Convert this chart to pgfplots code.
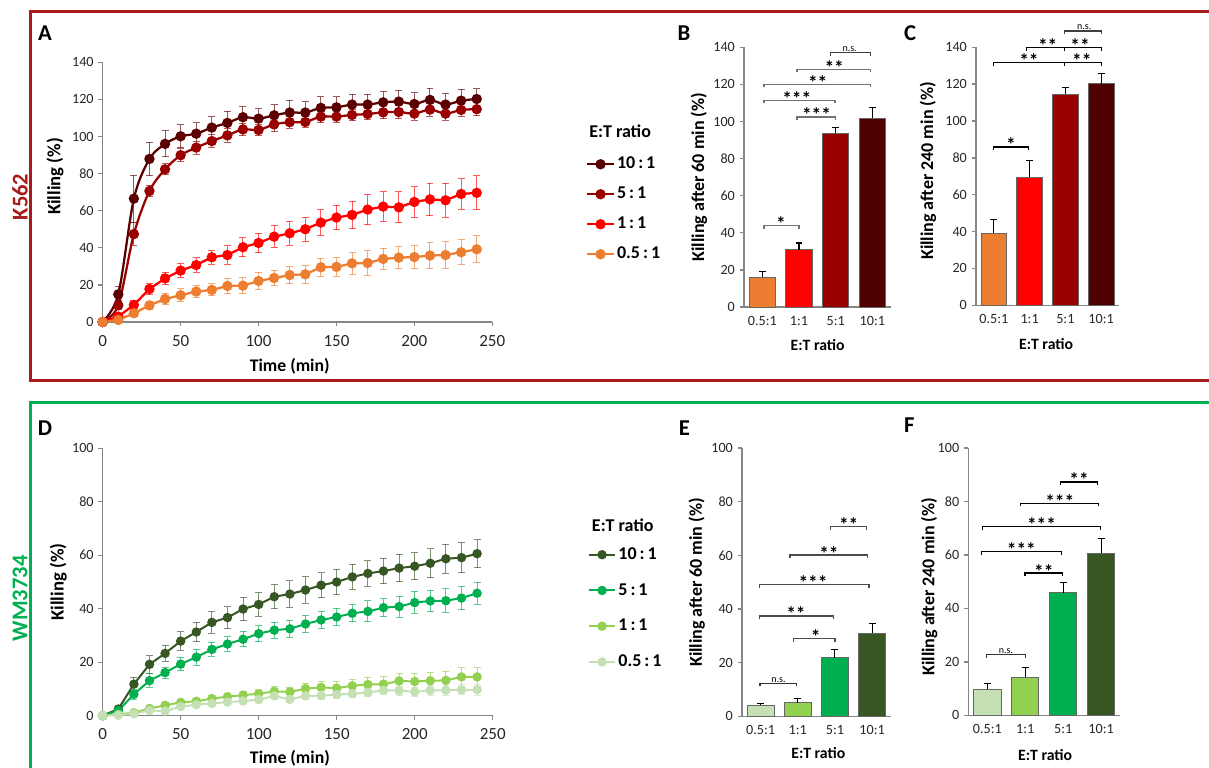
\documentclass[border=0pt]{standalone}
\usepackage{fontspec}
\setmainfont{Carlito}
\usepackage{pgfplots}
\pgfplotsset{compat=1.18}
\usepackage{pgfplotstable}

\definecolor{kdark}{HTML}{5A0000}
\definecolor{kbar10}{HTML}{4F0000}
\definecolor{kred5}{HTML}{990000}
\definecolor{kred1}{HTML}{FF0000}
\definecolor{korange}{HTML}{ED7D31}
\definecolor{g10}{HTML}{375623}
\definecolor{g5}{HTML}{00B050}
\definecolor{g1}{HTML}{92D050}
\definecolor{g05}{HTML}{C5E0B4}
\definecolor{frameRed}{HTML}{A81B1B}
\definecolor{axgrey}{HTML}{868686}

% ---------- Panel A data ----------
\pgfplotstableread{
t y e
0 0 0
10 14.9 4
20 66.5 12.7
30 87.9 9
40 96.0 7
50 100.1 6.3
60 101.5 5.8
70 104.8 5.9
80 107.3 6.3
90 110.4 5.5
100 109.6 5.4
110 111.4 5.8
120 112.9 6.6
130 112.9 5.9
140 115.4 6.1
150 115.7 5.8
160 117.2 5.5
170 117.2 5.5
180 118.4 5.8
190 118.8 6.1
200 117.5 6.1
210 119.7 6.3
220 117.2 5.9
230 119.3 6.1
240 120.2 5.6
}\Aten
\pgfplotstableread{
t y e
0 0 0
10 9.0 2.5
20 47.4 6
30 70.6 3
40 82.3 3
50 89.9 3.4
60 94.0 3.5
70 97.5 3.3
80 100.6 3.8
90 103.8 3.3
100 103.5 3.2
110 106.5 3.9
120 107.7 3.2
130 107.8 2.9
140 110.7 3.4
150 110.7 3
160 111.6 3.1
170 112.1 3.1
180 113.0 3.5
190 113.2 3.6
200 112.3 3.5
210 114.5 3.5
220 112.3 3.6
230 114.3 3.5
240 114.7 3.5
}\Afive
\pgfplotstableread{
t y e
0 0 0
10 2.9 1.5
20 9.2 2.5
30 17.8 3
40 23.5 3.3
50 27.7 3.9
60 30.7 4
70 34.9 3.9
80 36.1 5
90 40.3 5
100 42.6 5.2
110 46.0 5.8
120 47.8 6.5
130 50.0 6.4
140 53.6 6.8
150 56.3 6.6
160 57.7 7.4
170 60.6 8.1
180 62.2 7.9
190 61.8 8.3
200 64.7 8.3
210 66.1 8.8
220 65.6 9.1
230 69.0 8.3
240 69.6 9.1
}\Aone
\pgfplotstableread{
t y e
0 0 0
10 1.1 0.8
20 4.7 1.5
30 9.0 2
40 12.4 3
50 14.4 3.4
60 16.4 3.2
70 17.3 3.2
80 19.4 4.1
90 19.6 4.5
100 22.1 4.7
110 23.7 4.2
120 25.3 4.6
130 25.7 4.9
140 29.5 4.8
150 29.7 5
160 31.6 5.8
170 31.8 6.5
180 34.0 5.7
190 34.7 5.9
200 35.0 6.2
210 35.8 7
220 36.1 7.2
230 37.6 6.6
240 39.2 7.3
}\Ahalf

% ---------- Panel D data ----------
\pgfplotstableread{
t y e
0 0 0
10 2.5 1
20 11.8 2.5
30 19.2 3.3
40 23.3 3
50 27.9 3.5
60 31.3 3.6
70 34.9 4
80 36.7 4.1
90 39.9 4.4
100 41.6 4.4
110 44.5 4.5
120 45.5 5
130 47.0 4.9
140 48.8 4.6
150 50.0 4.7
160 51.9 4.7
170 53.2 4.7
180 54.1 4.7
190 55.2 5.1
200 55.9 5.1
210 57.0 5.5
220 58.7 5.5
230 59.1 5.6
240 60.6 5.2
}\Dten
\pgfplotstableread{
t y e
0 0 0
10 1.9 0.8
20 8.0 1.8
30 13.1 2.5
40 16.1 2.1
50 19.3 2.5
60 21.9 3
70 24.8 2.6
80 26.8 2.7
90 28.6 2.9
100 30.7 3
110 32.0 3
120 32.5 3.2
130 34.3 3.1
140 35.8 3.2
150 36.9 3.2
160 38.3 3.1
170 39.0 3.9
180 40.4 3.4
190 40.8 3.9
200 42.3 4
210 42.9 4
220 43.0 4.4
230 44.0 4.4
240 45.8 4.1
}\Dfive
\pgfplotstableread{
t y e
0 0 0
10 0.5 0.3
20 1.1 0.5
30 2.7 0.8
40 3.9 1
50 5.0 1
60 5.4 1.2
70 6.4 1.2
80 7.1 1.3
90 7.7 1.5
100 8.2 1.5
110 9.1 1.7
120 8.9 1.8
130 10.1 2
140 10.6 2.2
150 10.3 2.4
160 11.2 2.4
170 11.7 2.7
180 11.8 2.9
190 13.0 2.9
200 12.8 3
210 13.1 3.1
220 13.2 3.3
230 14.5 3.4
240 14.5 3.5
}\Done
\pgfplotstableread{
t y e
0 0 0
10 0.2 0.2
20 0.7 0.4
30 2.0 0.6
40 1.7 0.6
50 3.4 0.8
60 4.1 0.8
70 4.6 0.9
80 5.1 1
90 5.5 1
100 6.0 1.1
110 7.4 1.2
120 6.1 1.2
130 7.4 1.3
140 7.5 1.3
150 7.9 1.4
160 8.2 1.5
170 8.7 1.6
180 9.5 1.6
190 9.4 1.7
200 8.9 1.8
210 9.5 1.8
220 9.5 1.9
230 9.7 1.9
240 9.7 2
}\Dhalf

\pgfplotsset{
  base/.style={scale only axis, axis lines=left,
    axis line style={axgrey, line width=1pt, -},
    tick style={axgrey, line width=1pt}, tick align=outside,
    major tick length=3.3pt,
    /pgf/number format/assume math mode=true,
    tick label style={font=\fontsize{10.6}{12}\selectfont, text=black!85},
    label style={font=\bfseries\fontsize{12}{14}\selectfont},
    clip=false},
  lineax/.style={base, xmin=0, xmax=250, xtick={0,50,...,250},
    xticklabel style={font=\fontsize{12.75}{14}\selectfont, yshift=-3pt},
    xlabel={Time (min)}, ylabel={Killing (\%)},
    xlabel style={font=\bfseries\fontsize{13.3}{15}\selectfont},
    ylabel style={font=\bfseries\fontsize{14}{15}\selectfont},
    legend cell align=left,
    legend image code/.code={\draw[mark repeat=2,mark phase=2,##1] plot coordinates {(0pt,0pt) (10pt,0pt) (20pt,0pt)};}},
  barax/.style={base, xmin=-0.5, xmax=3.5, xtick={0,1,2,3},
    xticklabels={0.5:1,1:1,5:1,10:1}, xtick style={draw=none},
    ymin=0, ybar, bar width=0.72, bar shift=0pt,
    xlabel={E:T ratio},
    ylabel style={font=\bfseries\fontsize{13.5}{15}\selectfont},
    xlabel style={font=\bfseries\fontsize{11.8}{14}\selectfont}},
  ser/.style={color=#1, line width=1.7pt, mark=*, mark size=3pt,
    mark options={solid, fill=#1, draw=#1},
    /pgfplots/error bars/y dir=both, /pgfplots/error bars/y explicit,
    /pgfplots/error bars/error bar style={#1, line width=0.75pt, opacity=0.65},
    /pgfplots/error bars/error mark options={rotate=90, #1, mark size=2.6pt, line width=0.75pt, opacity=0.65}},
  serd/.style={ser=#1, line width=1.5pt, mark size=2.75pt},
  bar/.style={fill=#1, draw=black!60, line width=0.6pt,
    /pgfplots/error bars/y dir=plus, /pgfplots/error bars/y explicit,
    /pgfplots/error bars/error bar style={black, line width=0.8pt},
    /pgfplots/error bars/error mark options={rotate=90, black, mark size=2.6pt, line width=0.8pt}},
}

\newcommand{\brk}[6]{%
  \draw[#1, line width=0.9pt] ([yshift=-2.3pt]axis cs:#2,#4) -- (axis cs:#2,#4) -- (axis cs:#3,#4) -- ([yshift=-2.3pt]axis cs:#3,#4);
  \node[anchor=base, inner sep=0pt, text height=7pt, text depth=0pt, text=black, font=\bfseries\fontsize{14.5}{15}\selectfont] at ([yshift=-3.7pt]axis cs:#5,#4) {#6};}
\newcommand{\brkns}[5]{%
  \draw[#1, line width=0.9pt] ([yshift=-2.3pt]axis cs:#2,#4) -- (axis cs:#2,#4) -- (axis cs:#3,#4) -- ([yshift=-2.3pt]axis cs:#3,#4);
  \node[anchor=south, inner sep=0pt, text=black, font=\fontsize{7.5}{8}\selectfont] at ([yshift=0.6pt]axis cs:#5,#4) {n.s.};}

\begin{document}
\begin{tikzpicture}[x=0.75pt,y=0.75pt]
\useasboundingbox (0,0) rectangle (1209,767);
\coordinate (pA) at (102.7,445);
\coordinate (pB) at (744,460);
\coordinate (pC) at (976,461.7);
\coordinate (pD) at (102.7,51.3);
\coordinate (pE) at (742,50.7);
\coordinate (pF) at (968.3,51.7);

% frames
\draw[frameRed, line width=2.25pt] (1215,755.3) -- (30,755.3) -- (30,386) -- (1215,386);
\draw[g5, line width=2.25pt] (1215,364.3) -- (30,364.3) -- (30,-10);
\node[rotate=90, text=frameRed, font=\bfseries\fontsize{16.9}{18}\selectfont] at (20,570) {K562};
\node[rotate=90, text=g5, font=\bfseries\fontsize{16.9}{18}\selectfont] at (20,168.7) {WM3734};

% panel letters
\foreach \l/\px/\py in {A/45/734, B/684/734, C/910/734, D/45/339.3, E/684.3/339.3, F/909.3/342}
  \node[font=\bfseries\fontsize{17}{18}\selectfont] at (\px,\py) {\l};

% legend titles
\node[anchor=west, inner sep=0pt, font=\bfseries\fontsize{13.5}{15}\selectfont] at (589,635.3) {E:T ratio};
\node[anchor=west, inner sep=0pt, font=\bfseries\fontsize{13.5}{15}\selectfont] at (591.7,242) {E:T ratio};

% ================= A =================
\begin{axis}[lineax, at={(pA)}, anchor=south west,
  width=292.2pt, height=194.8pt, ymin=0, ymax=140, ytick={0,20,...,140},
  xlabel style={at={(axis description cs:0.48,-0.172)}, anchor=center},
  ylabel style={at={(axis description cs:-0.1224,0.56)}, anchor=center},
  legend style={at={(axis description cs:1.24,0.434)}, anchor=west, draw=none, fill=none,
    inner sep=0pt, row sep=6.5pt, font=\bfseries\fontsize{13.5}{14}\selectfont,
    nodes={inner sep=1.5pt, text height=10pt, text depth=3pt}}]
\addplot[smooth, tension=0.5, ser=kdark] table[x=t, y=y, y error=e] {\Aten};
\addlegendentry{10\,:\,1}
\addplot[smooth, tension=0.5, ser=kred5] table[x=t, y=y, y error=e] {\Afive};
\addlegendentry{5\,:\,1}
\addplot[ser=kred1] table[x=t, y=y, y error=e] {\Aone};
\addlegendentry{1\,:\,1}
\addplot[ser=korange] table[x=t, y=y, y error=e] {\Ahalf};
\addlegendentry{0.5\,:\,1}
\end{axis}

% ================= B =================
\begin{axis}[barax, at={(pB)}, anchor=south west,
  width=110pt, height=194.8pt, ymax=140, ytick={0,20,...,140},
  ylabel={Killing after 60 min (\%)},
  xlabel style={at={(axis description cs:0.502,-0.146)}, anchor=center},
  ylabel style={at={(axis description cs:-0.307,0.5)}, anchor=center}]
\addplot[bar=korange] coordinates {(0,16.2) +- (0,2.8)};
\addplot[bar=kred1] coordinates {(1,30.9) +- (0,3.6)};
\addplot[bar=kred5] coordinates {(2,93.6) +- (0,3.3)};
\addplot[bar=kbar10] coordinates {(3,101.9) +- (0,5.5)};
\brk{black!55}{0.045}{1.0}{43.8}{0.51}{*}
\brk{black!55}{0.945}{2.0}{102.4}{1.476}{***}
\brk{black!55}{0.045}{1.98}{111.4}{0.94}{***}
\brk{black!55}{0.045}{2.955}{120.0}{1.51}{**}
\brk{black!55}{0.945}{2.955}{128.1}{1.96}{**}
\brkns{black!75}{1.864}{2.955}{137.1}{2.38}
\end{axis}

% ================= C =================
\begin{axis}[barax, at={(pC)}, anchor=south west,
  width=107.25pt, height=193.5pt, ymax=140, ytick={0,20,...,140},
  ylabel={Killing after 240 min (\%)},
  xlabel style={at={(axis description cs:0.49,-0.151)}, anchor=center},
  ylabel style={at={(axis description cs:-0.336,0.521)}, anchor=center}]
\addplot[bar=korange] coordinates {(0,39.1) +- (0,7.6)};
\addplot[bar=kred1] coordinates {(1,69.5) +- (0,9.2)};
\addplot[bar=kred5] coordinates {(2,114.5) +- (0,3.6)};
\addplot[bar=kbar10] coordinates {(3,120.3) +- (0,5.6)};
\brk{black}{0.0}{0.963}{85.9}{0.48}{*}
\brk{black}{0.0}{1.97}{131.7}{0.98}{**}
\brk{black}{1.97}{3.0}{131.7}{2.46}{**}
\brk{black}{0.918}{1.97}{139.8}{1.506}{**}
\brk{black}{1.97}{3.0}{139.8}{2.41}{**}
\brkns{black!75}{1.97}{3.0}{148.8}{2.53}
\end{axis}

% ================= D =================
\begin{axis}[lineax, at={(pD)}, anchor=south west,
  width=292.5pt, height=200.55pt, ymin=0, ymax=100, ytick={0,20,...,100},
  xlabel style={at={(axis description cs:0.48,-0.158)}, anchor=center},
  ylabel style={at={(axis description cs:-0.114,0.5)}, anchor=center},
  legend style={at={(axis description cs:1.243,0.4015)}, anchor=west, draw=none, fill=none,
    inner sep=0pt, row sep=10.8pt, font=\bfseries\fontsize{13.5}{14}\selectfont,
    nodes={inner sep=1.5pt, text height=10pt, text depth=3pt}}]
\addplot[serd=g10] table[x=t, y=y, y error=e] {\Dten};
\addlegendentry{10\,:\,1}
\addplot[serd=g5] table[x=t, y=y, y error=e] {\Dfive};
\addlegendentry{5\,:\,1}
\addplot[serd=g1] table[x=t, y=y, y error=e] {\Done};
\addlegendentry{1\,:\,1}
\addplot[serd=g05] table[x=t, y=y, y error=e] {\Dhalf};
\addlegendentry{0.5\,:\,1}
\end{axis}

% ================= E =================
\begin{axis}[barax, at={(pE)}, anchor=south west,
  width=111.5pt, height=201.2pt, ymax=100, ytick={0,20,...,100},
  ylabel={Killing after 60 min (\%)},
  xlabel style={at={(axis description cs:0.513,-0.138)}, anchor=center},
  ylabel style={at={(axis description cs:-0.305,0.499)}, anchor=center}]
\addplot[bar=g05] coordinates {(0,4.1) +- (0,0.7)};
\addplot[bar=g1] coordinates {(1,5.1) +- (0,1.5)};
\addplot[bar=g5] coordinates {(2,21.8) +- (0,3.2)};
\addplot[bar=g10] coordinates {(3,30.9) +- (0,3.8)};
\brkns{black!80}{-0.016}{0.97}{12.3}{0.48}
\brk{black!70}{0.89}{2.0}{28.9}{1.48}{*}
\brk{black!70}{-0.035}{1.967}{37.4}{0.95}{**}
\brk{black!70}{-0.035}{2.916}{49.1}{1.41}{***}
\brk{black!70}{0.79}{2.88}{60.1}{1.84}{**}
\brk{black!70}{1.886}{2.854}{70.7}{2.37}{**}
\end{axis}

% ================= F =================
\begin{axis}[barax, at={(pF)}, anchor=south west,
  width=113.8pt, height=200.5pt, ymax=100, ytick={0,20,...,100},
  ylabel={Killing after 240 min (\%)},
  xlabel style={at={(axis description cs:0.506,-0.1485)}, anchor=center},
  ylabel style={at={(axis description cs:-0.257,0.481)}, anchor=center}]
\addplot[bar=g05] coordinates {(0,9.7) +- (0,2.1)};
\addplot[bar=g1] coordinates {(1,14.2) +- (0,3.8)};
\addplot[bar=g5] coordinates {(2,45.8) +- (0,3.9)};
\addplot[bar=g10] coordinates {(3,60.6) +- (0,5.4)};
\brkns{black!80}{-0.015}{1.003}{22.6}{0.49}
\brk{black}{0.995}{1.99}{53.2}{1.49}{**}
\brk{black}{-0.147}{1.95}{61.2}{0.90}{***}
\brk{black}{-0.12}{2.99}{70.6}{1.43}{***}
\brk{black}{0.88}{2.94}{79.3}{1.91}{***}
\brk{black}{1.936}{2.90}{87.3}{2.42}{**}
\end{axis}
\end{tikzpicture}
\end{document}
